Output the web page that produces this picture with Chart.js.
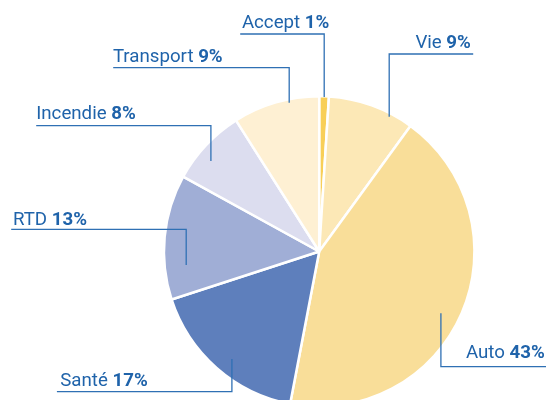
<!DOCTYPE html>
<html>
<head>
<meta charset="utf-8">
<script src="https://cdn.jsdelivr.net/npm/chart.js@4/dist/chart.umd.min.js"></script>
<style>
  html, body { margin: 0; padding: 0; background: #ffffff; overflow: hidden; width: 546px; height: 400px; }
  canvas { display: block; position: absolute; left: 0; top: 0; }
</style>
</head>
<body>
<canvas id="c" width="546" height="420"></canvas>
<script>
// ---- data ----
const categories = ["Accept", "Vie", "Auto", "Santé", "RTD", "Incendie", "Transport"];
const shares = [1, 9, 43, 17, 13, 8, 9];
const percentLabels = ["1%", "9%", "43%", "17%", "13%", "8%", "9%"];
const sliceColors = ["#F8CF58", "#FCE8B6", "#F9DE99", "#5E7FBC", "#A0AED6", "#DCDDEF", "#FEF0D3"];

// ---- label layout (offsets from pie centre, px) ----
// text: [x, baseline, align]; line: polyline points
const labelLayout = [
  { text: [-77.3, -223.8, "left"],  line: [[-79, -217.5], [5, -217.5], [5, -154.5]] },
  { text: [151.7, -203.2, "right"], line: [[154, -197.5], [70, -197.5], [70, -134.8]] },
  { text: [146.7, 106.8, "left"],   line: [[227, 115.2], [121.7, 115.2], [121.7, 61.8]] },
  { text: [-259, 134.5, "left"],    line: [[-262.3, 140.2], [-87.3, 140.2], [-87.3, 107.5]] },
  { text: [-306.3, -26.5, "left"],  line: [[-308, -22.2], [-133, -22.2], [-133, 13.5]] },
  { text: [-283, -132.2, "left"],   line: [[-283, -125.8], [-108.3, -125.8], [-108.3, -90.5]] },
  { text: [-206.3, -189.8, "left"], line: [[-206, -183.8], [-30, -183.8], [-30, -148.8]] }
];

const TEXT_COLOR = "#1F63AA";
const LINE_COLOR = "#2F70B4";
const FONT_FAMILY = "Roboto, 'Liberation Sans', Arial, sans-serif";
const FONT_SIZE = 18.7;

const leaderLabels = {
  id: "leaderLabels",
  afterDatasetsDraw(chart) {
    const ctx = chart.ctx;
    const meta = chart.getDatasetMeta(0);
    if (!meta.data.length) return;
    const cx = meta.data[0].x, cy = meta.data[0].y;
    ctx.save();
    ctx.strokeStyle = LINE_COLOR;
    ctx.lineWidth = 1.3;
    labelLayout.forEach((lay) => {
      ctx.beginPath();
      lay.line.forEach((p, i) => {
        const x = cx + p[0], y = cy + p[1];
        if (i === 0) ctx.moveTo(x, y); else ctx.lineTo(x, y);
      });
      ctx.stroke();
    });
    ctx.textBaseline = "alphabetic";
    ctx.fillStyle = TEXT_COLOR;
    labelLayout.forEach((lay, i) => {
      const name = categories[i] + " ";
      const pct = percentLabels[i];
      const normalFont = "400 " + FONT_SIZE + "px " + FONT_FAMILY;
      const boldFont = "700 " + FONT_SIZE + "px " + FONT_FAMILY;
      ctx.font = normalFont;
      const w1 = ctx.measureText(name).width;
      ctx.font = boldFont;
      const w2 = ctx.measureText(pct).width;
      let x = cx + lay.text[0];
      const y = cy + lay.text[1];
      if (lay.text[2] === "right") x -= (w1 + w2);
      ctx.textAlign = "left";
      ctx.font = normalFont;
      ctx.fillText(name, x, y);
      ctx.font = boldFont;
      ctx.fillText(pct, x + w1, y);
    });
    ctx.restore();
  }
};

new Chart(document.getElementById("c"), {
  type: "pie",
  data: {
    labels: categories,
    datasets: [{
      data: shares,
      backgroundColor: sliceColors,
      borderColor: "#ffffff",
      borderWidth: 2.5,
      hoverOffset: 0
    }]
  },
  options: {
    responsive: false,
    animation: false,
    rotation: 0,
    layout: { padding: { left: 162.7, top: 95, right: 70.3, bottom: 12 } },
    plugins: {
      legend: { display: false },
      tooltip: { enabled: false }
    }
  },
  plugins: [leaderLabels]
});
</script>
</body>
</html>
